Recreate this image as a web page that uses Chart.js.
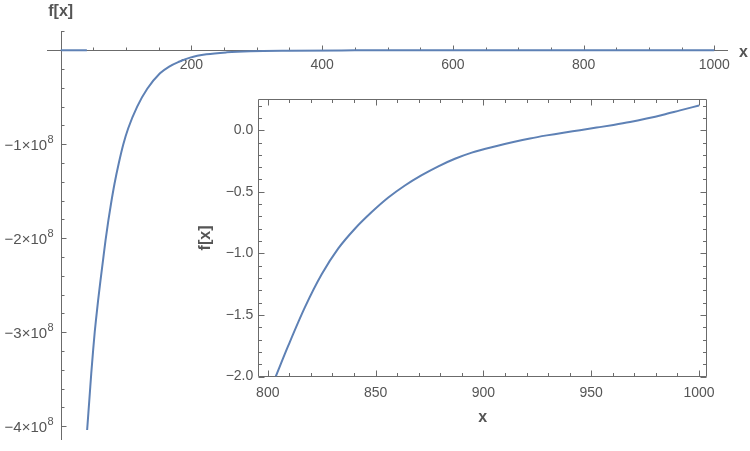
<!DOCTYPE html>
<html>
<head>
<meta charset="utf-8">
<script src="https://cdn.jsdelivr.net/npm/chart.js@4.4.1/dist/chart.umd.min.js"></script>
<style>
  html, body { margin: 0; padding: 0; background: #fff; }
  #wrap { position: relative; width: 750px; height: 451px; }
  #mainChart { position: absolute; left: 0; top: 0; }
  #insetChart { position: absolute; left: 180px; top: 86px; }
</style>
</head>
<body>
<div id="wrap">
  <canvas id="mainChart" width="750" height="451"></canvas>
  <canvas id="insetChart" width="560" height="365"></canvas>
</div>
<script>
// values
// main plot y values are in units of 10^8
const flatX = [0, 40];
const flatY = [0, 0];

const mainX = [40.4, 42.3, 44.5, 46.7, 49.6, 52.0, 53.9, 57.2, 61.0, 64.8, 68.6, 72.9, 77.0, 82.3,
               88.9, 95.8, 103.3, 117.0, 132.4, 151.9, 166, 180, 198, 223, 254, 290, 350, 450, 600, 800, 1000];
const mainY = [-4.04, -3.86, -3.65, -3.44, -3.19, -3.00, -2.87, -2.66, -2.44, -2.23,
               -2.02, -1.81, -1.63, -1.42, -1.20, -1.00, -0.83, -0.60, -0.41, -0.245,
               -0.173, -0.125, -0.078, -0.043, -0.022, -0.010, -0.004, -0.001, 0, 0, 0];

const insetX = [803.7, 809.5, 817.3, 825.0, 832.7, 840.4, 848.2, 855.9, 863.6, 871.4, 879.1, 886.8, 894.6,
                906.2, 913.9, 921.6, 929.4, 937.1, 944.8, 952.5, 960.3, 968.0, 975.7, 983.4, 991.2, 1000];
const insetY = [-2.0, -1.75, -1.435, -1.17, -0.96, -0.80, -0.665, -0.547, -0.449, -0.365, -0.293, -0.232, -0.182,
                -0.128, -0.096, -0.067, -0.042, -0.020, 0.0, 0.021, 0.043, 0.067, 0.095, 0.126, 0.161, 0.2];

const mainXLabels = [200, 400, 600, 800, 1000];
const mainYLabels = [-1, -2, -3, -4];   // times 10^8
const mainYExp = 8;
const insetXLabels = [800, 850, 900, 950, 1000];
const insetYLabels = [0, -0.5, -1, -1.5, -2];

const blue = '#5e81b5';
const gray = '#6b6b6b';
const textGray = '#555555';
const family = '"Liberation Sans", Arial, sans-serif';
const tickFont = { family: family, size: 14 };
const labelFont = { family: family, size: 16, weight: 'bold' };

const toPoints = (xs, ys) => xs.map((x, i) => ({ x: x, y: ys[i] }));
const near = (v, list) => list.find(l => Math.abs(v - l) < 1e-6);
const minus = (s) => s.replace('-', '\u2212');

// Mathematica style axes: crossing at the origin, ticks pointing into the plot
const mainAxes = {
    id: 'mainAxes',
    beforeDatasetsDraw(chart) {
        const { ctx, chartArea, scales: { x, y } } = chart;
        const y0 = Math.round(y.getPixelForValue(0)) + 0.5;
        const x0 = Math.round(x.getPixelForValue(0)) + 0.5;
        ctx.save();
        ctx.strokeStyle = gray;
        ctx.lineWidth = 1;
        ctx.beginPath();
        ctx.moveTo(chartArea.left, y0);
        ctx.lineTo(chartArea.right, y0);
        ctx.moveTo(x0, chartArea.top);
        ctx.lineTo(x0, chartArea.bottom);
        for (const t of x.ticks) {
            if (t.value === 0) continue;
            const px = Math.round(x.getPixelForValue(t.value)) + 0.5;
            const len = mainXLabels.includes(t.value) ? 5 : 3;
            ctx.moveTo(px, y0);
            ctx.lineTo(px, y0 - len);
        }
        for (const t of y.ticks) {
            if (Math.abs(t.value) < 1e-9) continue;
            const py = Math.round(y.getPixelForValue(t.value)) + 0.5;
            const len = near(t.value, mainYLabels) !== undefined ? 5 : 3;
            ctx.moveTo(x0, py);
            ctx.lineTo(x0 + len, py);
        }
        ctx.stroke();
        ctx.restore();
    },
    afterDraw(chart) {
        const { ctx, chartArea, scales: { x, y } } = chart;
        const x0 = x.getPixelForValue(0);
        ctx.save();
        ctx.fillStyle = textGray;

        // y tick labels in scientific form, exponent raised
        ctx.textAlign = 'right';
        ctx.textBaseline = 'alphabetic';
        for (const t of y.ticks) {
            const l = near(t.value, mainYLabels);
            if (l === undefined) continue;
            const py = y.getPixelForValue(t.value);
            const right = x0 - 7;
            ctx.font = '11px ' + family;
            const supW = ctx.measureText(String(mainYExp)).width;
            ctx.fillText(String(mainYExp), right, py - 1);
            ctx.font = '15px ' + family;
            ctx.fillText(minus(String(l)) + '\u00d710', right - supW - 0.5, py + 6);
        }

        ctx.font = 'bold 16px ' + family;
        ctx.textBaseline = 'middle';
        ctx.textAlign = 'center';
        ctx.fillText('f[x]', x0, chartArea.top - 19);
        ctx.textAlign = 'left';
        ctx.fillText('x', chartArea.right + 11, y.getPixelForValue(0) + 2);
        ctx.restore();
    }
};

const insetFrame = {
    id: 'insetFrame',
    beforeDatasetsDraw(chart) {
        const { ctx, chartArea: a, scales: { x, y } } = chart;
        const L = Math.round(a.left) + 0.5;
        const R = Math.round(a.right) - 0.5;
        const T = Math.round(a.top) + 0.5;
        const B = Math.round(a.bottom) - 0.5;
        ctx.save();
        ctx.strokeStyle = gray;
        ctx.lineWidth = 1;
        ctx.beginPath();
        ctx.rect(L, T, R - L, B - T);
        for (const t of x.ticks) {
            const px = Math.round(x.getPixelForValue(t.value)) + 0.5;
            const len = insetXLabels.includes(t.value) ? 6 : 3.5;
            ctx.moveTo(px, B);
            ctx.lineTo(px, B - len);
            ctx.moveTo(px, T);
            ctx.lineTo(px, T + len);
        }
        for (const t of y.ticks) {
            const py = Math.round(y.getPixelForValue(t.value)) + 0.5;
            const len = near(t.value, insetYLabels) !== undefined ? 6 : 3.5;
            ctx.moveTo(L, py);
            ctx.lineTo(L + len, py);
            ctx.moveTo(R, py);
            ctx.lineTo(R - len, py);
        }
        ctx.stroke();
        ctx.restore();
    }
};

const noGrid = { display: false, drawTicks: false };

new Chart(document.getElementById('mainChart'), {
    type: 'line',
    data: {
        datasets: [
            { data: toPoints(flatX, flatY), borderColor: blue, borderWidth: 2, pointRadius: 0 },
            { data: toPoints(mainX, mainY), borderColor: blue, borderWidth: 2, pointRadius: 0,
              cubicInterpolationMode: 'monotone' }
        ]
    },
    options: {
        responsive: false,
        animation: false,
        layout: { padding: { left: 47, right: 22, top: 31, bottom: 11 } },
        plugins: { legend: { display: false }, tooltip: { enabled: false } },
        scales: {
            x: {
                type: 'linear',
                position: { y: 0 },
                min: -21,
                max: 1021,
                grid: noGrid,
                border: { display: false },
                ticks: {
                    stepSize: 50, includeBounds: false, autoSkip: false, maxRotation: 0,
                    padding: 6, color: textGray, font: tickFont,
                    callback: (v) => mainXLabels.includes(v) ? String(v) : ''
                },
                afterFit: (s) => { s.height = 0; }
            },
            y: {
                type: 'linear',
                position: { x: 0 },
                min: -4.146,
                max: 0.205,
                grid: noGrid,
                border: { display: false },
                // labels are drawn by mainAxes so the exponent can be raised
                ticks: { display: false, stepSize: 0.2, includeBounds: false, autoSkip: false },
                afterFit: (s) => { s.width = 0; }
            }
        }
    },
    plugins: [mainAxes]
});

new Chart(document.getElementById('insetChart'), {
    type: 'line',
    data: {
        datasets: [
            { data: toPoints(insetX, insetY), borderColor: blue, borderWidth: 2, pointRadius: 0,
              cubicInterpolationMode: 'monotone' }
        ]
    },
    options: {
        responsive: false,
        animation: false,
        layout: { padding: { left: 0, right: 33, top: 0, bottom: 0 } },
        plugins: { legend: { display: false }, tooltip: { enabled: false } },
        scales: {
            x: {
                type: 'linear',
                position: 'bottom',
                min: 795.6,
                max: 1003.7,
                grid: noGrid,
                border: { display: false },
                ticks: {
                    stepSize: 10, includeBounds: false, autoSkip: false, maxRotation: 0,
                    padding: 8, color: textGray, font: tickFont,
                    callback: (v) => insetXLabels.includes(v) ? String(v) : ''
                },
                title: { display: true, text: 'x', color: textGray, font: labelFont, padding: { top: 0, bottom: 24 } },
                afterFit: (s) => { s.height = 74.5; }
            },
            y: {
                type: 'linear',
                position: 'left',
                min: -2,
                max: 0.25,
                grid: noGrid,
                border: { display: false },
                ticks: {
                    stepSize: 0.1, includeBounds: false, autoSkip: false,
                    padding: 5, color: textGray, font: tickFont,
                    callback: (v) => {
                        const l = near(v, insetYLabels);
                        return l === undefined ? '' : minus(l.toFixed(1));
                    }
                },
                title: { display: true, text: 'f[x]', color: textGray, font: labelFont, padding: { top: 16, bottom: 0 } },
                afterFit: (s) => { s.width = 78.3; }
            }
        }
    },
    plugins: [insetFrame]
});
</script>
</body>
</html>
